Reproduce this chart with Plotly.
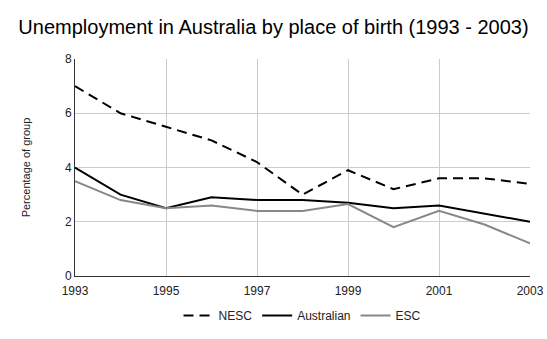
import plotly.graph_objects as go

years = list(range(1993, 2004))
nesc = [7.0, 6.0, 5.5, 5.0, 4.2, 3.0, 3.9, 3.2, 3.6, 3.6, 3.4]
australian = [4.0, 3.0, 2.5, 2.9, 2.8, 2.8, 2.7, 2.5, 2.6, 2.3, 2.0]
esc = [3.5, 2.8, 2.5, 2.6, 2.4, 2.4, 2.65, 1.8, 2.4, 1.9, 1.2]

x_ticks = [1993, 1995, 1997, 1999, 2001, 2003]
y_ticks = [0, 2, 4, 6, 8]

fig = go.Figure()
fig.add_trace(go.Scatter(x=years, y=nesc, name="NESC", mode="lines",
                         line=dict(color="#000000", width=2, dash="10px,6px")))
fig.add_trace(go.Scatter(x=years, y=australian, name="Australian", mode="lines",
                         line=dict(color="#000000", width=2)))
fig.add_trace(go.Scatter(x=years, y=esc, name="ESC", mode="lines",
                         line=dict(color="#888888", width=2)))

fig.update_layout(
    width=547, height=339,
    margin=dict(l=75, r=17, t=59, b=63, autoexpand=False),
    paper_bgcolor="white", plot_bgcolor="white",
    font=dict(family="Arial, Liberation Sans, sans-serif", color="#222222", size=12),
    title=dict(text="Unemployment in Australia by place of birth (1993 - 2003)",
               x=0.5, xanchor="center", y=0.92, yanchor="middle",
               font=dict(size=20, color="#000000")),
    showlegend=True,
    legend=dict(orientation="h", x=0.5, xanchor="center", y=-0.115, yanchor="top",
                font=dict(size=12, color="#222222")),
    xaxis=dict(range=[1993, 2003], tickvals=x_ticks, ticktext=[str(v) for v in x_ticks],
               showgrid=True, gridcolor="#cccccc", gridwidth=1,
               showline=True, linecolor="#333333", linewidth=1,
               zeroline=False, ticks="", ticklabelstandoff=4, automargin=False,
               tickfont=dict(size=12, color="#222222")),
    yaxis=dict(range=[0, 8], tickvals=y_ticks, ticktext=[str(v) for v in y_ticks],
               showgrid=True, gridcolor="#cccccc", gridwidth=1,
               showline=True, linecolor="#333333", linewidth=1,
               zeroline=False, ticks="", automargin=False,
               tickfont=dict(size=12, color="#222222"),
               title=dict(text="Percentage of group", font=dict(size=11, color="#222222"),
                          standoff=32)),
)

fig.write_html("out.html")
